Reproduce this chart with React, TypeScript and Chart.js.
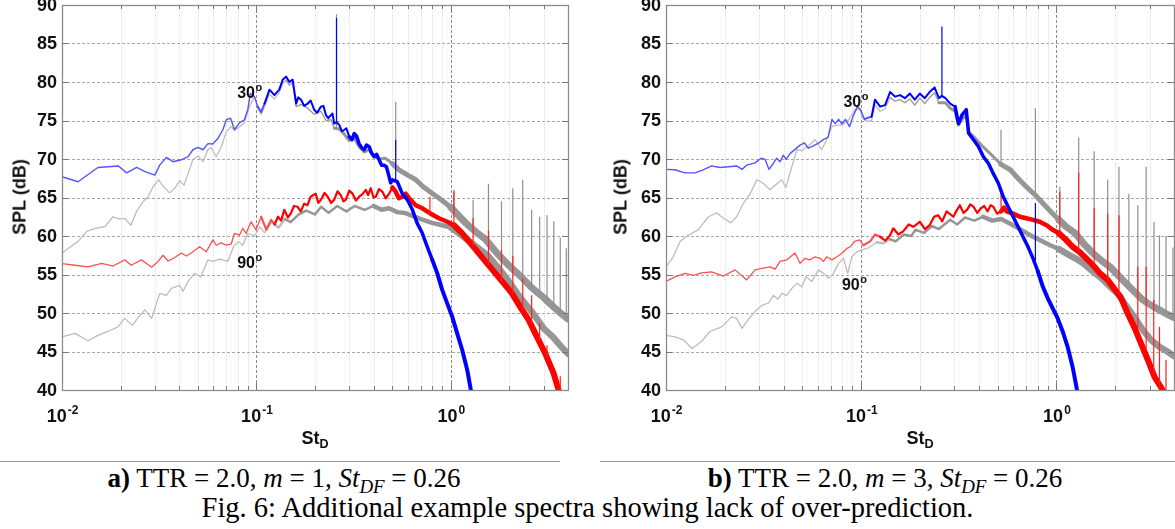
import React, { useEffect, useRef } from "react";
import { Chart, registerables } from "chart.js";

Chart.register(...registerables);

type Pt = [number, number];
type Spike = [number, number, number];

// ---------- axes ----------
const X_MIN = 0.01;
const X_MAX = 4;
const Y_MIN = 40;
const Y_MAX = 90;
const yTickValues = [40, 45, 50, 55, 60, 65, 70, 75, 80, 85, 90];
const xMajorTicks = [0.01, 0.1, 1];
const xMajorExponents = ["-2", "-1", "0"];

// ---------- panel a) TTR = 2.0, m = 1 ----------
const a_blue30: Pt[] = [
  [0.01, 67.7], [0.0121, 67.05], [0.0153, 68.9], [0.0195, 69.1], [0.0215, 68.2], [0.0242, 68.9],
  [0.0267, 68.35], [0.03, 67.9], [0.0318, 69.2], [0.0344, 70.2], [0.0372, 69.65], [0.0411, 69.9],
  [0.0445, 70.3], [0.0471, 71.2], [0.05, 71.5], [0.0531, 71.2], [0.0563, 72.0], [0.0597, 71.95],
  [0.0634, 72.7], [0.0672, 73.8], [0.07, 75.1], [0.0736, 75.3], [0.0771, 73.8], [0.0818, 74.7],
  [0.0867, 75.1], [0.0902, 76.4], [0.093, 78.5], [0.0977, 78.1], [0.1016, 76.8], [0.1057, 76.1],
  [0.11, 77.2], [0.1167, 79.0], [0.1237, 78.3], [0.131, 79.0], [0.1365, 80.3], [0.142, 80.7],
  [0.1477, 80.0], [0.1535, 80.3], [0.16, 77.2], [0.164, 78.0], [0.1696, 77.7], [0.176, 76.9],
  [0.1834, 77.2], [0.19, 77.6], [0.198, 76.4], [0.205, 76.0], [0.2146, 76.8], [0.221, 76.9],
  [0.2276, 75.7], [0.234, 75.3], [0.2415, 75.7], [0.246, 75.9], [0.251, 74.6], [0.258, 74.8],
  [0.267, 74.4], [0.275, 73.6], [0.283, 73.8], [0.29, 74.0], [0.3, 72.9], [0.31, 72.5],
  [0.318, 73.3], [0.327, 73.0], [0.337, 72.0], [0.347, 71.5], [0.358, 71.2], [0.368, 71.8],
  [0.38, 71.6], [0.39, 70.8], [0.403, 70.3], [0.415, 70.6], [0.427, 69.9], [0.44, 69.2],
  [0.453, 69.2], [0.466, 69.0], [0.481, 67.7], [0.49, 66.9], [0.5, 67.3], [0.53, 67.05],
  [0.562, 65.5], [0.597, 64.7], [0.634, 63.4], [0.672, 61.6], [0.713, 60.35], [0.756, 58.6],
  [0.802, 56.9], [0.851, 55.15], [0.902, 53.0], [0.957, 51.25], [1.016, 49.5], [1.077, 47.35],
  [1.143, 45.2], [1.213, 42.6], [1.262, 40.2], [1.28, 39.5],
];
const a_gray30: Pt[] = [
  [0.01, 57.75], [0.0108, 58.4], [0.0121, 59.3], [0.0134, 60.6], [0.0148, 61.0], [0.0166, 61.2],
  [0.0183, 62.5], [0.0198, 62.2], [0.021, 62.3], [0.0226, 61.4], [0.0242, 63.2], [0.0261, 64.45],
  [0.0277, 65.1], [0.0294, 66.4], [0.0314, 67.3], [0.033, 66.5], [0.0358, 65.6], [0.038, 66.2],
  [0.0403, 67.2], [0.0424, 66.6], [0.0445, 68.1], [0.0471, 69.9], [0.05, 70.4], [0.0531, 69.65],
  [0.0563, 71.2], [0.0584, 71.5], [0.0621, 70.3], [0.066, 71.6], [0.07, 73.55], [0.0741, 74.2],
  [0.0771, 73.7], [0.0818, 74.2], [0.0867, 74.7], [0.092, 76.8], [0.0977, 78.1], [0.1016, 76.5],
  [0.1057, 75.8], [0.11, 76.8], [0.1167, 78.4], [0.1237, 77.8], [0.131, 78.6], [0.1365, 79.8],
  [0.142, 80.2], [0.1477, 79.6], [0.1535, 79.9], [0.16, 76.8], [0.1696, 77.1], [0.1834, 76.6],
  [0.198, 75.8], [0.2146, 76.2], [0.2276, 75.0], [0.2415, 75.1], [0.251, 74.0], [0.267, 73.9],
  [0.283, 73.2], [0.3, 72.4], [0.318, 72.8], [0.337, 71.6], [0.358, 70.9], [0.38, 71.2],
  [0.403, 70.3], [0.427, 70.0], [0.46, 70.1], [0.5, 69.4], [0.54, 68.6], [0.6, 67.9],
  [0.66, 67.3], [0.72, 66.4], [0.8, 65.55], [0.87, 64.9], [0.94, 64.25], [1.0, 63.7],
  [1.1, 62.6], [1.2, 61.6], [1.35, 60.5], [1.5, 59.6], [1.75, 57.6], [2.0, 56.1],
  [2.3, 54.7], [2.6, 53.3], [3.0, 52.0], [3.37, 50.8], [3.7, 49.9], [4.0, 49.2],
];
const a_red90: Pt[] = [
  [0.01, 56.4], [0.01166, 56.2], [0.0136, 56.0], [0.016, 56.45], [0.0183, 56.1], [0.021, 56.9],
  [0.0227, 56.2], [0.0256, 56.9], [0.0289, 55.95], [0.0312, 56.7], [0.0331, 57.5], [0.0351, 56.75],
  [0.038, 57.2], [0.0411, 57.8], [0.0436, 57.4], [0.0462, 57.8], [0.051, 58.6], [0.0552, 57.95],
  [0.0597, 59.5], [0.0621, 58.8], [0.066, 59.1], [0.07, 58.8], [0.0741, 58.95], [0.0771, 60.35],
  [0.0818, 60.1], [0.085, 61.0], [0.0885, 60.35], [0.0938, 61.85], [0.0994, 60.8], [0.1057, 62.5],
  [0.1124, 60.8], [0.119, 62.1], [0.124, 61.5], [0.129, 62.5], [0.134, 62.0], [0.139, 63.4],
  [0.145, 62.4], [0.15, 62.9], [0.156, 63.9], [0.1625, 63.8], [0.169, 63.2], [0.176, 64.2],
  [0.183, 64.0], [0.19, 65.1], [0.2015, 65.5], [0.208, 64.3], [0.2146, 64.7], [0.224, 65.6],
  [0.2326, 65.1], [0.242, 64.3], [0.251, 64.7], [0.261, 65.8], [0.2715, 65.3], [0.28, 64.5],
  [0.288, 64.7], [0.3, 65.9], [0.312, 65.5], [0.325, 64.6], [0.337, 65.1], [0.35, 65.4],
  [0.365, 66.0], [0.375, 65.3], [0.387, 66.2], [0.4, 65.0], [0.411, 65.1], [0.427, 66.1],
  [0.444, 65.75], [0.462, 64.9], [0.481, 65.5], [0.5, 66.3], [0.52, 65.75], [0.54, 64.9],
  [0.562, 65.1], [0.585, 65.5], [0.609, 64.9], [0.659, 64.0], [0.713, 63.6], [0.787, 62.9],
  [0.868, 62.3], [0.957, 61.85], [1.036, 61.4], [1.143, 60.35], [1.262, 59.05], [1.392, 57.75],
  [1.535, 56.45], [1.695, 55.15], [1.87, 53.85], [2.06, 52.55], [2.27, 50.8], [2.51, 49.1],
  [2.77, 46.9], [3.05, 44.8], [3.37, 42.2], [3.58, 40.0], [3.65, 39.3],
];
const a_gray90: Pt[] = [
  [0.01, 46.9], [0.01166, 47.35], [0.0136, 46.4], [0.0153, 47.1], [0.0172, 47.6], [0.0194, 48.2],
  [0.021, 49.3], [0.023, 48.4], [0.0248, 49.5], [0.0267, 50.4], [0.0289, 49.3], [0.0318, 52.55],
  [0.0344, 52.3], [0.0365, 53.2], [0.0403, 53.6], [0.0418, 52.8], [0.0445, 54.1], [0.048, 55.15],
  [0.0518, 54.7], [0.0563, 56.9], [0.0597, 56.7], [0.0647, 57.0], [0.0713, 56.7], [0.0762, 58.6],
  [0.081, 59.3], [0.085, 58.8], [0.0902, 60.35], [0.0977, 60.0], [0.104, 61.2], [0.11, 60.4],
  [0.12, 61.8], [0.13, 61.1], [0.14, 62.2], [0.15, 61.8], [0.165, 62.8], [0.18, 63.3],
  [0.2, 62.8], [0.215, 63.8], [0.235, 63.0], [0.26, 63.9], [0.29, 63.2], [0.32, 63.9],
  [0.36, 63.4], [0.4, 63.9], [0.44, 63.4], [0.48, 63.6], [0.53, 63.1], [0.58, 63.0],
  [0.62, 62.7], [0.7, 62.2], [0.8, 61.7], [0.9, 61.4], [1.0, 61.1], [1.12, 60.2],
  [1.26, 59.2], [1.4, 58.3], [1.54, 57.5], [1.75, 55.9], [2.0, 54.0], [2.27, 52.0],
  [2.6, 50.2], [3.0, 48.0], [3.37, 46.8], [3.7, 45.6], [4.0, 44.7],
];
// [St_D, base dB, peak dB]
const a_blueSpikes: Spike[] = [[0.258, 74.8, 88.3], [0.52, 67.1, 72.5]];
const a_graySpikes: Spike[] = [
  [0.258, 74.0, 88.8], [0.52, 69.2, 77.4], [1.036, 63.3, 66.0], [1.3, 60.7, 64.7], [1.56, 59.2, 66.8],
  [1.82, 57.0, 64.5], [2.08, 55.6, 66.2], [2.34, 54.3, 67.3], [2.6, 53.3, 63.4], [2.86, 52.3, 62.5],
  [3.12, 51.5, 62.7], [3.38, 50.7, 61.9], [3.65, 49.9, 59.8], [3.92, 49.3, 58.4],
];
const a_redSpikes: Spike[] = [
  [0.78, 62.9, 65.1], [1.036, 61.3, 65.8], [1.3, 58.7, 62.3], [1.56, 56.2, 60.7], [1.82, 54.0, 58.2],
  [2.08, 52.3, 57.4], [2.34, 50.3, 54.5], [2.6, 48.6, 52.3], [2.86, 46.4, 48.7], [3.12, 44.3, 45.8],
  [3.65, 39.8, 41.8],
];
const a_angleLabels = [
  { text: "30", x: 0.0796, y: 77.9 },
  { text: "90", x: 0.0796, y: 55.8 },
];

// ---------- panel b) TTR = 2.0, m = 3 ----------
const b_blue30: Pt[] = [
  [0.01, 68.65], [0.0111, 68.6], [0.0125, 68.2], [0.0141, 68.2], [0.0155, 68.6], [0.0171, 69.1],
  [0.0189, 68.9], [0.0209, 69.0], [0.023, 69.1], [0.0245, 68.65], [0.0259, 69.2], [0.0286, 69.5],
  [0.0307, 70.1], [0.0322, 69.95], [0.0337, 68.65], [0.0355, 69.45], [0.0369, 70.1], [0.0384, 69.65],
  [0.0399, 70.5], [0.0412, 69.95], [0.0432, 70.7], [0.0458, 71.25], [0.0486, 71.8], [0.0512, 72.1],
  [0.0536, 71.4], [0.0569, 71.7], [0.0604, 72.05], [0.0641, 72.55], [0.0676, 72.8], [0.0708, 75.15],
  [0.0736, 74.6], [0.0766, 75.15], [0.0797, 74.55], [0.083, 75.15], [0.0871, 74.2], [0.0907, 75.5],
  [0.0956, 76.8], [0.0989, 76.45], [0.104, 75.15], [0.1066, 75.3], [0.113, 75.5], [0.1176, 77.7],
  [0.125, 76.8], [0.1325, 77.0], [0.1405, 78.7], [0.149, 78.1], [0.158, 78.3], [0.1675, 77.9],
  [0.1775, 78.5], [0.188, 77.7], [0.1995, 78.5], [0.2115, 77.9], [0.224, 78.7], [0.2375, 79.3],
  [0.25, 77.9], [0.259, 78.2], [0.27, 77.9], [0.2855, 77.2], [0.3025, 76.8], [0.315, 74.6],
  [0.328, 75.7], [0.345, 76.4], [0.355, 73.35], [0.376, 72.5], [0.399, 71.6], [0.4225, 70.3],
  [0.448, 69.45], [0.475, 68.1], [0.504, 66.85], [0.534, 65.1], [0.566, 63.8], [0.6, 62.5],
  [0.636, 61.2], [0.674, 59.9], [0.715, 58.6], [0.758, 57.1], [0.803, 55.4], [0.852, 53.4],
  [0.903, 51.9], [0.957, 50.6], [1.015, 49.3], [1.076, 47.6], [1.141, 45.6], [1.21, 43.0],
  [1.27, 40.2], [1.29, 39.5],
];
const b_gray30: Pt[] = [
  [0.01, 56.0], [0.0109, 57.3], [0.0118, 59.3], [0.013, 60.1], [0.0146, 60.8], [0.0165, 62.5],
  [0.0182, 63.0], [0.0197, 62.3], [0.0215, 61.7], [0.023, 62.5], [0.0249, 64.25], [0.027, 65.5],
  [0.0292, 67.3], [0.0315, 66.85], [0.0341, 66.0], [0.0369, 66.75], [0.0392, 67.3], [0.0411, 66.3],
  [0.0441, 69.0], [0.0468, 71.2], [0.0497, 71.1], [0.0536, 71.7], [0.058, 72.5], [0.0627, 71.2],
  [0.0665, 72.5], [0.0708, 74.2], [0.0751, 74.4], [0.0797, 74.4], [0.0862, 75.1], [0.093, 76.45],
  [0.0989, 76.4], [0.101, 75.4], [0.1066, 74.9], [0.113, 75.0], [0.1176, 77.0], [0.125, 76.2],
  [0.1325, 76.5], [0.1405, 78.0], [0.149, 77.5], [0.158, 77.7], [0.1675, 77.3], [0.1775, 77.8],
  [0.188, 77.0], [0.1995, 77.9], [0.2115, 77.2], [0.224, 78.0], [0.2375, 78.6], [0.25, 77.3],
  [0.27, 77.3], [0.2855, 76.6], [0.3025, 76.2], [0.315, 74.4], [0.328, 75.2], [0.345, 75.6],
  [0.355, 73.5], [0.376, 72.9], [0.39, 72.5], [0.42, 71.6], [0.475, 70.3], [0.52, 69.3],
  [0.58, 68.6], [0.64, 67.4], [0.7, 66.4], [0.78, 65.3], [0.852, 64.25], [0.95, 63.0],
  [1.03, 62.1], [1.12, 61.2], [1.25, 60.35], [1.38, 59.0], [1.54, 57.75], [1.7, 56.8],
  [1.88, 56.0], [2.07, 54.9], [2.27, 53.85], [2.5, 52.8], [2.77, 51.7], [3.05, 51.0],
  [3.37, 50.4], [3.65, 49.9], [4.0, 49.4],
];
const b_red90: Pt[] = [
  [0.01, 54.1], [0.0111, 54.7], [0.0125, 55.15], [0.0138, 54.9], [0.0152, 55.2], [0.0171, 55.35],
  [0.0197, 54.8], [0.0226, 55.6], [0.0259, 54.3], [0.0286, 55.6], [0.031, 55.8], [0.0341, 56.0],
  [0.0362, 55.7], [0.0384, 56.7], [0.0416, 56.9], [0.0458, 57.8], [0.0486, 56.45], [0.0515, 57.1],
  [0.0546, 56.9], [0.058, 57.3], [0.0615, 57.1], [0.0641, 56.7], [0.0665, 57.3], [0.0708, 56.9],
  [0.0751, 57.3], [0.0797, 57.75], [0.0846, 58.4], [0.0879, 58.6], [0.0924, 59.3], [0.098, 59.5],
  [0.1027, 58.8], [0.111, 59.3], [0.118, 60.2], [0.125, 59.9], [0.133, 59.4], [0.1405, 60.1],
  [0.146, 61.0], [0.155, 60.2], [0.164, 60.6], [0.175, 61.5], [0.185, 61.2], [0.1995, 61.85],
  [0.212, 60.9], [0.224, 61.4], [0.236, 62.5], [0.2475, 62.7], [0.26, 61.9], [0.2735, 63.2],
  [0.2965, 62.5], [0.308, 63.3], [0.32, 64.0], [0.334, 63.0], [0.348, 63.4], [0.362, 64.1],
  [0.376, 63.8], [0.393, 63.0], [0.41, 63.6], [0.427, 63.9], [0.444, 63.2], [0.46, 64.0],
  [0.475, 63.8], [0.497, 62.9], [0.52, 63.2], [0.538, 63.7], [0.556, 63.2], [0.6, 62.9],
  [0.65, 62.5], [0.7, 62.3], [0.758, 62.1], [0.82, 61.85], [0.89, 61.4], [0.957, 60.8],
  [1.03, 60.35], [1.12, 59.5], [1.21, 58.6], [1.31, 57.95], [1.42, 57.1], [1.54, 56.2],
  [1.67, 55.15], [1.83, 54.3], [1.97, 53.2], [2.13, 52.1], [2.31, 50.0], [2.5, 48.2],
  [2.71, 46.05], [2.94, 43.9], [3.18, 41.7], [3.5, 40.0], [3.6, 39.3],
];
const b_gray90: Pt[] = [
  [0.01, 47.1], [0.0111, 46.9], [0.0123, 46.5], [0.0136, 45.4], [0.0152, 46.3], [0.0168, 47.6],
  [0.0193, 48.2], [0.0217, 49.5], [0.023, 49.3], [0.0245, 48.0], [0.0263, 49.1], [0.0286, 50.2],
  [0.031, 51.0], [0.0335, 51.3], [0.0355, 52.3], [0.0374, 51.8], [0.0392, 52.55], [0.0416, 52.3],
  [0.0441, 53.2], [0.0468, 53.85], [0.0497, 53.4], [0.052, 54.7], [0.0558, 54.1], [0.0604, 55.6],
  [0.0641, 55.15], [0.068, 54.5], [0.072, 55.15], [0.0766, 56.45], [0.0811, 57.1], [0.0853, 55.15],
  [0.0894, 57.3], [0.0948, 57.95], [0.1007, 58.2], [0.11, 58.5], [0.12, 59.2], [0.13, 59.05],
  [0.14, 59.6], [0.15, 59.3], [0.165, 60.2], [0.18, 60.0], [0.19, 60.8], [0.21, 60.4],
  [0.23, 61.3], [0.25, 60.9], [0.2855, 62.1], [0.31, 61.5], [0.34, 62.4], [0.38, 62.0],
  [0.42, 62.5], [0.47, 62.0], [0.52, 62.2], [0.58, 61.6], [0.66, 60.8], [0.758, 59.9],
  [0.85, 59.3], [0.93, 58.8], [1.03, 58.3], [1.12, 57.75], [1.25, 57.1], [1.37, 56.45],
  [1.5, 55.6], [1.67, 54.7], [1.85, 53.6], [2.05, 52.55], [2.27, 51.0], [2.5, 49.5],
  [2.77, 47.8], [3.05, 46.5], [3.37, 45.6], [3.7, 45.0], [4.0, 44.4],
];
const b_blueSpikes: Spike[] = [[0.259, 78.2, 87.2], [0.78, 56.5, 64.3]];
const b_graySpikes: Spike[] = [
  [0.52, 69.3, 73.8], [0.78, 65.3, 76.6], [1.04, 62.0, 66.4], [1.3, 59.7, 72.8], [1.56, 57.6, 71.0],
  [1.83, 56.2, 67.3], [2.09, 54.8, 69.0], [2.35, 53.5, 65.5], [2.61, 52.5, 64.0], [2.88, 51.6, 69.0],
  [3.16, 50.9, 61.85], [3.37, 50.4, 60.1], [3.64, 49.9, 60.0], [3.95, 49.4, 58.5],
];
const b_redSpikes: Spike[] = [
  [0.52, 63.2, 66.0], [1.04, 60.2, 65.75], [1.3, 57.9, 68.2], [1.56, 55.9, 63.6], [1.83, 54.2, 62.9],
  [2.09, 52.4, 62.7], [2.61, 48.0, 56.0], [2.88, 45.2, 56.0], [3.15, 42.0, 51.7], [3.37, 40.3, 48.2],
  [3.64, 39.5, 43.9],
];
const b_angleLabels = [
  { text: "30", x: 0.0811, y: 76.8 },
  { text: "90", x: 0.0796, y: 53.0 },
];

// ---------- styling ----------
const SANS = '"Liberation Sans", Arial, sans-serif';
const SERIF = '"Liberation Serif", "Times New Roman", serif';

type LineStyle = { stops: [number, number][]; low: string; high: string; split: number };
const STYLE_GRAY30: LineStyle = { stops: [[0.25, 1.3], [0.5, 3], [1, 5], [Infinity, 7]], low: "#bdbdbd", high: "#969696", split: 0.14 };
const STYLE_GRAY90: LineStyle = { stops: [[0.12, 1.3], [0.4, 2.5], [1, 4.5], [Infinity, 6.5]], low: "#bdbdbd", high: "#969696", split: 0.14 };
const STYLE_RED: LineStyle = { stops: [[0.1, 1.3], [0.5, 2.2], [1, 4.5], [Infinity, 6]], low: "#ff5050", high: "#ff0000", split: 0.12 };
const STYLE_BLUE: LineStyle = { stops: [[0.1, 1.4], [0.3, 2], [0.8, 3.5], [Infinity, 4]], low: "#5555ff", high: "#0000ff", split: 0.11 };

function widthAt(stops: [number, number][], x: number) {
  for (const [lim, w] of stops) if (x < lim) return w;
  return stops[stops.length - 1][1];
}

function lineDataset(points: Pt[], st: LineStyle) {
  return {
    data: points.map(([x, y]) => ({ x, y })),
    borderColor: st.low,
    borderWidth: 1,
    pointRadius: 0,
    tension: 0,
    fill: false,
    borderCapStyle: "round" as const,
    borderJoinStyle: "round" as const,
    clip: 0,
    segment: {
      borderWidth: (ctx: any) => widthAt(st.stops, ctx.p0.parsed.x),
      borderColor: (ctx: any) => (ctx.p0.parsed.x < st.split ? st.low : st.high),
    },
  };
}

function spikeDataset(spikes: Spike[], color: string) {
  const data: { x: number; y: number | null }[] = [];
  spikes.forEach(([x, base, top]) => {
    data.push({ x, y: base }, { x, y: top }, { x, y: null });
  });
  return { data, borderColor: color, borderWidth: 1.2, pointRadius: 0, spanGaps: false, clip: 0, fill: false };
}

type AngleLabel = { text: string; x: number; y: number };

function framePlugin(labels: AngleLabel[]) {
  return {
    id: "frame",
    beforeDatasetsDraw(chart: any) {
      const { ctx, chartArea } = chart;
      const { left, right, top, bottom } = chartArea;
      const xs = chart.scales.x;
      const ys = chart.scales.y;
      ctx.save();
      ctx.lineWidth = 1;
      // minor vertical grid
      ctx.strokeStyle = "rgba(0,0,0,0.13)";
      ctx.setLineDash([1, 1]);
      for (const dec of xMajorTicks) {
        for (let k = 2; k <= 9; k++) {
          const v = k * dec;
          if (v >= X_MAX) continue;
          const px = Math.round(xs.getPixelForValue(v)) + 0.5;
          ctx.beginPath();
          ctx.moveTo(px, top);
          ctx.lineTo(px, bottom);
          ctx.stroke();
        }
      }
      // major vertical grid
      ctx.strokeStyle = "#8a8a8a";
      ctx.setLineDash([3, 2]);
      for (const v of xMajorTicks) {
        if (v <= X_MIN) continue;
        const px = Math.round(xs.getPixelForValue(v)) + 0.5;
        ctx.beginPath();
        ctx.moveTo(px, top);
        ctx.lineTo(px, bottom);
        ctx.stroke();
      }
      // horizontal grid
      ctx.strokeStyle = "#a8a8a8";
      for (const v of yTickValues) {
        if (v <= Y_MIN || v >= Y_MAX) continue;
        const py = Math.round(ys.getPixelForValue(v)) + 0.5;
        ctx.beginPath();
        ctx.moveTo(left, py);
        ctx.lineTo(right, py);
        ctx.stroke();
      }
      ctx.restore();
    },
    afterDatasetsDraw(chart: any) {
      const { ctx, chartArea } = chart;
      const { left, right, top, bottom } = chartArea;
      const xs = chart.scales.x;
      const ys = chart.scales.y;
      ctx.save();
      ctx.setLineDash([]);
      // frame
      ctx.strokeStyle = "#8c8c8c";
      ctx.lineWidth = 1.3;
      ctx.strokeRect(Math.round(left) + 0.5, Math.round(top) + 0.5, Math.round(right - left), Math.round(bottom - top));
      // ticks
      ctx.strokeStyle = "#777";
      ctx.lineWidth = 1;
      for (const dec of xMajorTicks) {
        for (let k = 1; k <= 9; k++) {
          const v = k * dec;
          if (v >= X_MAX || v <= X_MIN) continue;
          const len = k === 1 ? 7 : 4;
          const px = Math.round(xs.getPixelForValue(v)) + 0.5;
          ctx.beginPath();
          ctx.moveTo(px, bottom);
          ctx.lineTo(px, bottom - len);
          ctx.moveTo(px, top);
          ctx.lineTo(px, top + len);
          ctx.stroke();
        }
      }
      for (const v of yTickValues) {
        if (v <= Y_MIN || v >= Y_MAX) continue;
        const py = Math.round(ys.getPixelForValue(v)) + 0.5;
        ctx.beginPath();
        ctx.moveTo(left, py);
        ctx.lineTo(left + 6, py);
        ctx.moveTo(right, py);
        ctx.lineTo(right - 6, py);
        ctx.stroke();
      }
      // y tick labels
      ctx.fillStyle = "#111";
      ctx.font = `bold 18px ${SANS}`;
      ctx.textAlign = "right";
      ctx.textBaseline = "middle";
      for (const v of yTickValues) {
        ctx.fillText(String(v), left - 5, ys.getPixelForValue(v) + 1);
      }
      // x tick labels with superscript exponent
      ctx.textBaseline = "alphabetic";
      ctx.textAlign = "left";
      xMajorTicks.forEach((v, i) => {
        const px = xs.getPixelForValue(v);
        ctx.font = `bold 18px ${SANS}`;
        const w1 = ctx.measureText("10").width;
        ctx.font = `bold 12px ${SANS}`;
        const w2 = ctx.measureText(xMajorExponents[i]).width;
        const x0 = px - (w1 + w2) / 2;
        ctx.font = `bold 18px ${SANS}`;
        ctx.fillText("10", x0, bottom + 32);
        ctx.font = `bold 12px ${SANS}`;
        ctx.fillText(xMajorExponents[i], x0 + w1 + 1, bottom + 24);
      });
      // angle labels
      for (const lb of labels) {
        const px = xs.getPixelForValue(lb.x);
        const py = ys.getPixelForValue(lb.y);
        ctx.font = `bold 16px ${SANS}`;
        const w = ctx.measureText(lb.text).width;
        ctx.fillText(lb.text, px, py);
        ctx.font = `bold 11px ${SANS}`;
        ctx.fillText("o", px + w + 0.5, py - 7);
      }
      ctx.restore();
    },
  };
}

type PanelProps = {
  left: number;
  width: number;
  height: number;
  padding: { left: number; right: number; top: number; bottom: number };
  blue: Pt[];
  gray30: Pt[];
  red: Pt[];
  gray90: Pt[];
  blueSpikes: Spike[];
  graySpikes: Spike[];
  redSpikes: Spike[];
  labels: AngleLabel[];
};

function SpectrumPanel(p: PanelProps) {
  const ref = useRef<HTMLCanvasElement>(null);
  useEffect(() => {
    if (!ref.current) return;
    const chart = new Chart(ref.current, {
      type: "line",
      data: {
        datasets: [
          spikeDataset(p.blueSpikes, "#0000ff"),
          lineDataset(p.blue, STYLE_BLUE),
          spikeDataset(p.redSpikes, "#ff2020"),
          lineDataset(p.red, STYLE_RED),
          spikeDataset(p.graySpikes, "#8f8f8f"),
          lineDataset(p.gray30, STYLE_GRAY30),
          lineDataset(p.gray90, STYLE_GRAY90),
        ] as any,
      },
      options: {
        animation: false,
        responsive: false,
        maintainAspectRatio: false,
        events: [],
        layout: { padding: p.padding },
        plugins: {
          legend: { display: false },
          tooltip: { enabled: false },
          title: { display: false },
        },
        scales: {
          x: { type: "logarithmic", min: X_MIN, max: X_MAX, display: false },
          y: { type: "linear", min: Y_MIN, max: Y_MAX, display: false },
        },
      },
      plugins: [framePlugin(p.labels)],
    });
    return () => chart.destroy();
  }, []);
  return (
    <canvas
      ref={ref}
      width={p.width}
      height={p.height}
      style={{ position: "absolute", left: p.left, top: 0, width: p.width, height: p.height }}
    />
  );
}

const subStyle: React.CSSProperties = { fontSize: "0.7em", verticalAlign: "-0.3em", lineHeight: 0 };

function AxisTitles({ yCenterX, xCenterX }: { yCenterX: number; xCenterX: number }) {
  return (
    <>
      <div
        style={{
          position: "absolute",
          left: yCenterX,
          top: 197,
          transform: "translate(-50%, -50%) rotate(-90deg)",
          font: `bold 18px ${SANS}`,
          whiteSpace: "nowrap",
          color: "#111",
        }}
      >
        SPL (dB)
      </div>
      <div
        style={{
          position: "absolute",
          left: xCenterX,
          top: 438,
          transform: "translate(-50%, -50%)",
          font: `bold 18px ${SANS}`,
          whiteSpace: "nowrap",
          color: "#111",
        }}
      >
        St<span style={{ fontSize: "0.7em", verticalAlign: "-0.35em", lineHeight: 0 }}>D</span>
      </div>
    </>
  );
}

const captionStyle = (left: number, width: number, top: number, size: number): React.CSSProperties => ({
  position: "absolute",
  left,
  top,
  width,
  textAlign: "center",
  font: `${size}px ${SERIF}`,
  lineHeight: "30px",
  whiteSpace: "nowrap",
  color: "#000",
});

export default function App() {
  return (
    <div style={{ position: "absolute", left: 0, top: 0, width: 1175, height: 529, background: "#fff", overflow: "hidden" }}>
      <SpectrumPanel
        left={0}
        width={590}
        height={460}
        padding={{ left: 62, right: 22, top: 5, bottom: 70 }}
        blue={a_blue30}
        gray30={a_gray30}
        red={a_red90}
        gray90={a_gray90}
        blueSpikes={a_blueSpikes}
        graySpikes={a_graySpikes}
        redSpikes={a_redSpikes}
        labels={a_angleLabels}
      />
      <SpectrumPanel
        left={600}
        width={575}
        height={460}
        padding={{ left: 66, right: 1, top: 5, bottom: 70 }}
        blue={b_blue30}
        gray30={b_gray30}
        red={b_red90}
        gray90={b_gray90}
        blueSpikes={b_blueSpikes}
        graySpikes={b_graySpikes}
        redSpikes={b_redSpikes}
        labels={b_angleLabels}
      />
      <AxisTitles yCenterX={20} xCenterX={315} />
      <AxisTitles yCenterX={621} xCenterX={920} />
      <div style={{ position: "absolute", left: 0, top: 461, width: 560, borderTop: "1px solid #9a9a9a" }} />
      <div style={{ position: "absolute", left: 600, top: 461, width: 575, borderTop: "1px solid #9a9a9a" }} />
      <div style={captionStyle(0, 568, 463, 27)}>
        <b>a)</b> TTR = 2.0, <i>m</i> = 1, <i>St</i>
        <i style={subStyle}>DF</i> = 0.26
      </div>
      <div style={captionStyle(600, 570, 463, 27)}>
        <b>b)</b> TTR = 2.0, <i>m</i> = 3, <i>St</i>
        <i style={subStyle}>DF</i> = 0.26
      </div>
      <div style={captionStyle(0, 1175, 493, 28.5)}>
        Fig. 6: Additional example spectra showing lack of over-prediction.
      </div>
    </div>
  );
}
